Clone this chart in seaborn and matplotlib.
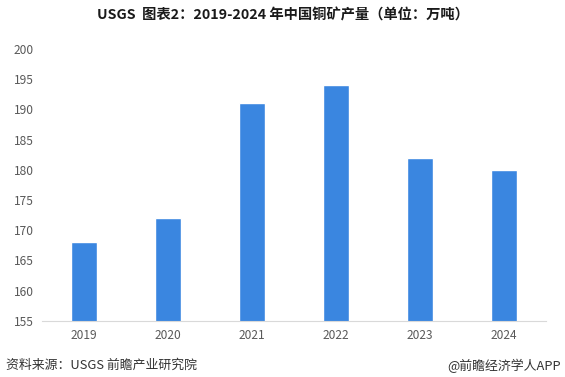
import matplotlib
matplotlib.use('Agg')
import matplotlib.pyplot as plt
import seaborn as sns
import pandas as pd

# data
years = ['2019', '2020', '2021', '2022', '2023', '2024']
output = [168, 172, 191, 194, 182, 180]
y_ticks = [155, 160, 165, 170, 175, 180, 185, 190, 195, 200]

sns.set_style('white')
plt.rcParams['font.family'] = ['Noto Sans CJK SC', 'DejaVu Sans']

df = pd.DataFrame({'year': years, 'value': output})

fig = plt.figure(figsize=(5.65, 3.77), dpi=100)
ax = fig.add_axes([0.074, 0.149, 0.892, 0.721])

sns.barplot(data=df, x='year', y='value', color='#3a86e0', saturation=1,
            width=0.31, ax=ax)

ax.set_ylim(155, 200)
ax.set_yticks(y_ticks)
ax.set_xlabel('')
ax.set_ylabel('')
ax.tick_params(axis='both', labelsize=8.6, colors='#595959', length=0, pad=6)
for s in ['top', 'right', 'left']:
    ax.spines[s].set_visible(False)
ax.spines['bottom'].set_color('#d9d9d9')
ax.spines['bottom'].set_linewidth(0.8)

fig.text(0.5, 0.958, 'USGS  图表2：2019-2024 年中国铜矿产量（单位：万吨）',
         ha='center', va='center', fontsize=10.3, fontweight='bold', color='#1a1a1a')
fig.text(0.01, 0.03, '资料来源：USGS 前瞻产业研究院', ha='left', va='center',
         fontsize=9.3, color='#333333')
fig.text(0.993, 0.03, '@前瞻经济学人APP', ha='right', va='center',
         fontsize=9.3, color='#333333')

fig.savefig('out.png', dpi=100)
